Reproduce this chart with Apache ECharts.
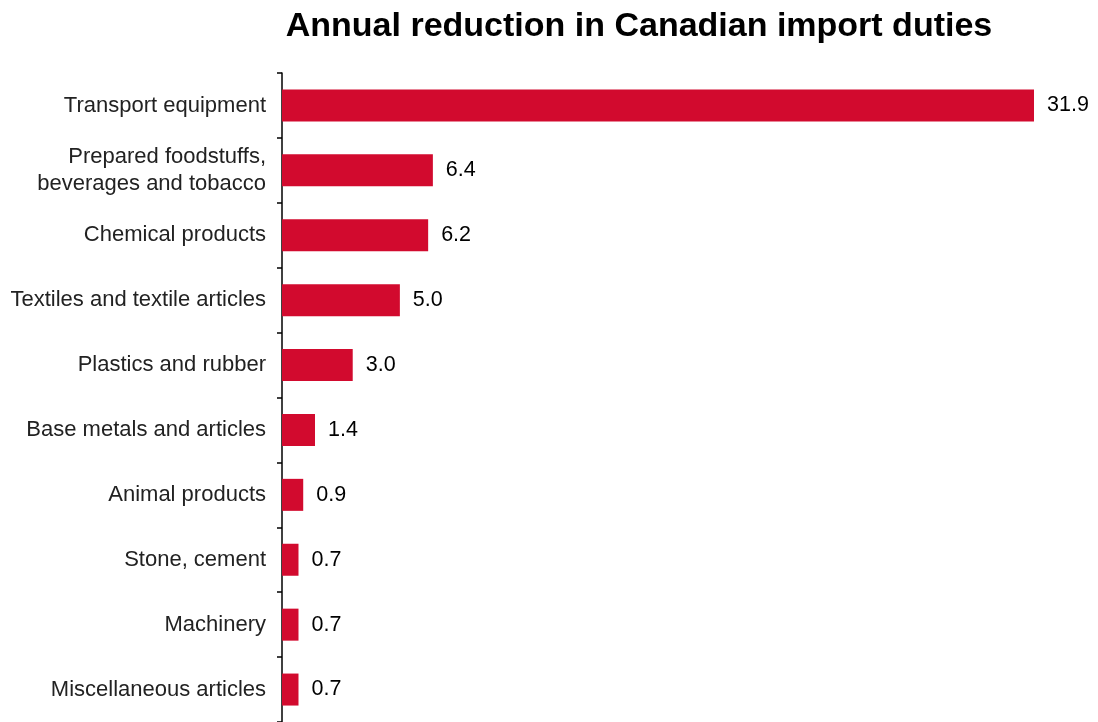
<!DOCTYPE html>
<html><head><meta charset="utf-8">
<script src="https://cdn.jsdelivr.net/npm/echarts@6/dist/echarts.min.js"></script>
<style>html,body{margin:0;padding:0;background:#fff}#c{width:1098px;height:722px}</style>
</head><body><div id="c"></div>
<script>
const categories = ["Transport equipment","Prepared foodstuffs,\nbeverages and tobacco","Chemical products","Textiles and textile articles","Plastics and rubber","Base metals and articles","Animal products","Stone, cement","Machinery","Miscellaneous articles"];
const values = [31.9, 6.4, 6.2, 5.0, 3.0, 1.4, 0.9, 0.7, 0.7, 0.7];
const titleText = "Annual reduction in Canadian import duties";

const chart = echarts.init(document.getElementById('c'), null, {renderer:'canvas'});
chart.setOption({
  animation:false,
  title:{text:titleText,left:634,top:5,textAlign:'center',
    textStyle:{fontFamily:'Liberation Sans, Arial, sans-serif',fontSize:34,fontWeight:'bold',color:'#000'}},
  grid:{left:282,top:73,width:752,height:650,containLabel:false},
  xAxis:{type:'value',min:0,max:31.9,show:false},
  yAxis:{type:'category',inverse:true,data:categories,
    axisLine:{lineStyle:{color:'#000',width:1.5}},
    axisTick:{show:true,length:5,lineStyle:{color:'#000',width:1.5}},
    axisLabel:{margin:16,fontFamily:'Liberation Sans, Arial, sans-serif',fontSize:22,color:'#222',lineHeight:27}},
  series:[{type:'bar',data:values,barWidth:32,
    itemStyle:{color:'#D20A2E'},
    label:{show:true,position:'right',distance:13,
      formatter:p=>p.value.toFixed(1),
      fontFamily:'Liberation Sans, Arial, sans-serif',fontSize:21.5,color:'#000'}}]
});
</script></body></html>
